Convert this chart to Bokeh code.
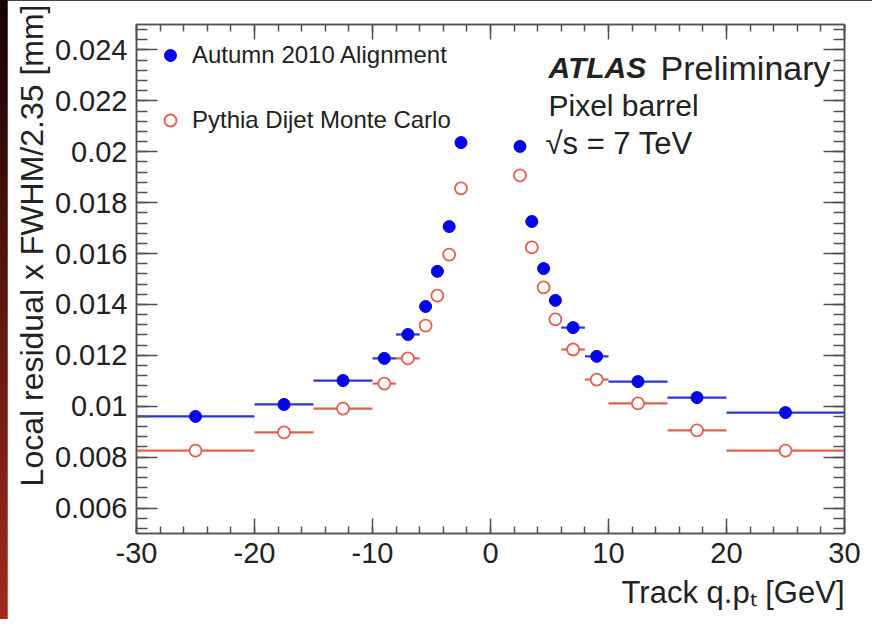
from bokeh.plotting import figure
from bokeh.models import (Range1d, LinearAxis, SingleIntervalTicker, CustomJSTickFormatter,
                          ColumnDataSource, Legend, LegendItem, Label, Spacer, Title)
from bokeh.layouts import row
from bokeh.embed import file_html
from bokeh.resources import INLINE

# ---- data ----
bin_lo = [-30, -20, -15, -10, -8, -6, -5, -4, -3, 2, 3, 4, 5, 6, 8, 10, 15, 20]
bin_hi = [-20, -15, -10, -8, -6, -5, -4, -3, -2, 3, 4, 5, 6, 8, 10, 15, 20, 30]
bin_center = [-25, -17.5, -12.5, -9, -7, -5.5, -4.5, -3.5, -2.5,
              2.5, 3.5, 4.5, 5.5, 7, 9, 12.5, 17.5, 25]
data_2010 = [0.00960, 0.01007, 0.01101, 0.01188, 0.01282, 0.01392, 0.01530, 0.01706, 0.02036,
             0.02021, 0.01726, 0.01541, 0.01416, 0.01309, 0.01196, 0.01097, 0.01034, 0.00975]
mc_pythia = [0.00826, 0.00897, 0.00991, 0.01089, 0.01188, 0.01317, 0.01435, 0.01596, 0.01856,
             0.01907, 0.01624, 0.01467, 0.01341, 0.01223, 0.01105, 0.01011, 0.00905, 0.00826]
series_names = ["Autumn 2010 Alignment", "Pythia Dijet Monte Carlo"]
x_title = "Track q.p\u209c [GeV]"
y_title = "Local residual x FWHM/2.35 [mm]"
atlas_text = ["ATLAS", "Preliminary", "Pixel barrel", "\u221as = 7 TeV"]

FONT = "Liberation Sans"
TXT = "#222222"
AX = "#505050"
BLUE = "#0505ea"
RED = "#e2604f"

p = figure(width=865, height=619, x_range=Range1d(-30, 30), y_range=Range1d(0.005, 0.025),
           output_backend="svg", toolbar_location=None,
           min_border_left=129, min_border_right=28, min_border_top=24, min_border_bottom=86,
           x_axis_location=None, y_axis_location=None)
p.background_fill_color = "white"
p.border_fill_color = "white"
p.outline_line_color = AX
p.outline_line_width = 1.5
p.xgrid.visible = False
p.ygrid.visible = False

num_fmt = CustomJSTickFormatter(code="return String(parseFloat(tick.toPrecision(6)));")
blank_fmt = CustomJSTickFormatter(code="return '';")


def style_axis(ax, horiz, labels):
    if horiz:
        ax.ticker = SingleIntervalTicker(interval=10, num_minor_ticks=5)
        ax.major_tick_in = 15
        ax.minor_tick_in = 7
    else:
        ax.ticker = SingleIntervalTicker(interval=0.002, num_minor_ticks=5)
        ax.major_tick_in = 21
        ax.minor_tick_in = 11
    ax.major_tick_out = 0
    ax.minor_tick_out = 0
    ax.axis_line_color = AX
    ax.axis_line_width = 1.5
    ax.major_tick_line_color = AX
    ax.minor_tick_line_color = AX
    ax.major_tick_line_width = 1.5
    ax.minor_tick_line_width = 1.5
    if labels:
        ax.formatter = num_fmt
        ax.major_label_text_font = FONT
        ax.major_label_text_font_size = "29px"
        ax.major_label_text_color = TXT
        ax.major_label_standoff = 9
    else:
        ax.formatter = blank_fmt
        ax.major_label_standoff = 0


for loc, horiz, labels in [("below", True, True), ("left", False, True),
                           ("above", True, False), ("right", False, False)]:
    ax = LinearAxis()
    style_axis(ax, horiz, labels)
    p.add_layout(ax, loc)

# axis titles (right/top aligned, ROOT style)
p.add_layout(Title(text=x_title, align="right", text_font=FONT, text_font_size="31px",
                   text_font_style="normal", text_color=TXT, standoff=15), "below")
p.add_layout(Title(text=y_title, align="right", offset=-20, text_font=FONT, text_font_size="32px",
                   text_font_style="normal", text_color=TXT, standoff=4), "left")

src = ColumnDataSource(dict(lo=bin_lo, hi=bin_hi, xc=bin_center, d=data_2010, m=mc_pythia))

p.segment(x0="lo", x1="hi", y0="m", y1="m", source=src, line_color=RED, line_width=2.2)
p.segment(x0="lo", x1="hi", y0="d", y1="d", source=src, line_color="#2a35d8", line_width=2.2)
r_mc = p.scatter(x="xc", y="m", source=src, marker="circle", size=12,
                 fill_color="white", line_color=RED, line_width=1.8)
r_d = p.scatter(x="xc", y="d", source=src, marker="circle", size=12,
                fill_color=BLUE, line_color=BLUE)

legend = Legend(items=[LegendItem(label=series_names[0], renderers=[r_d]),
                       LegendItem(label=series_names[1], renderers=[r_mc])],
                location=(19, 398), orientation="vertical",
                background_fill_alpha=0, border_line_color=None,
                label_text_font=FONT, label_text_font_size="24px", label_text_color=TXT,
                glyph_width=30, glyph_height=30, label_height=30, label_standoff=7,
                spacing=35, padding=0, margin=0)
p.add_layout(legend)

# ATLAS labels
p.add_layout(Label(x=412, y=466, x_units="screen", y_units="screen", text=atlas_text[0],
                   text_align="left", text_baseline="middle", text_font=FONT,
                   text_font_style="bold italic", text_font_size="30px", text_color=TXT))
p.add_layout(Label(x=524, y=466, x_units="screen", y_units="screen", text=atlas_text[1],
                   text_align="left", text_baseline="middle", text_font=FONT,
                   text_font_size="34px", text_color=TXT))
p.add_layout(Label(x=412, y=428, x_units="screen", y_units="screen", text=atlas_text[2],
                   text_align="left", text_baseline="middle", text_font=FONT,
                   text_font_size="30px", text_color=TXT))
p.add_layout(Label(x=409, y=390, x_units="screen", y_units="screen", text=atlas_text[3],
                   text_align="left", text_baseline="middle", text_font=FONT,
                   text_font_size="31px", text_color=TXT))

layout = row(Spacer(width=7, height=619), p,
             styles={"background": "linear-gradient(to bottom, #140202 0%, #4a100a 35%, #a32a1e 100%)"})

open("out.html", "w").write(file_html(layout, INLINE))
